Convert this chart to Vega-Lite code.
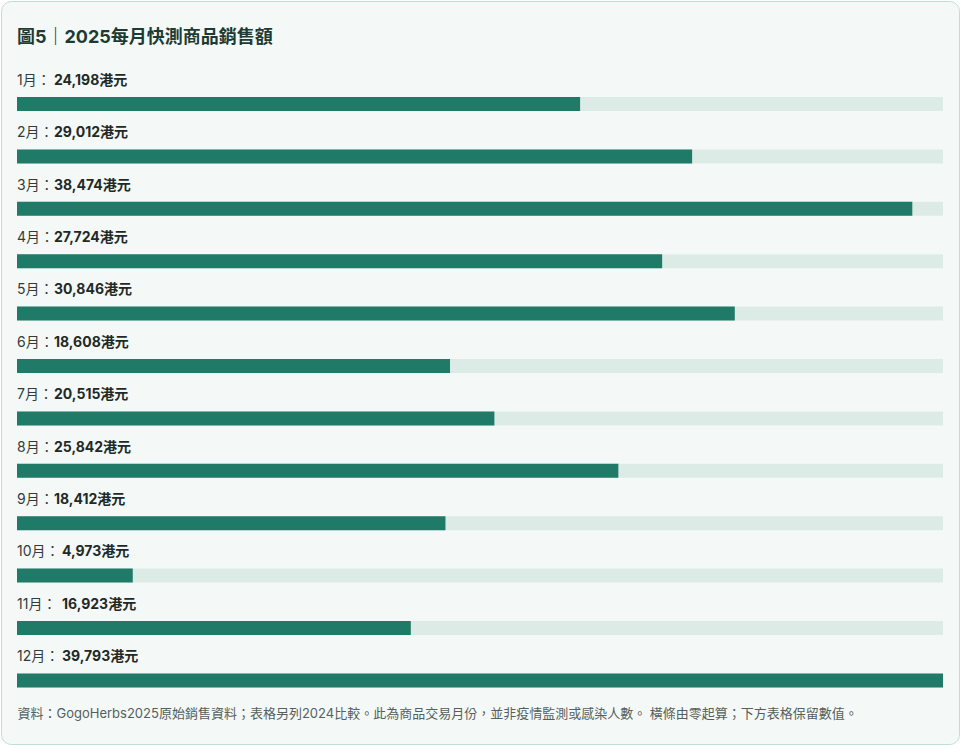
{
  "$schema": "https://vega.github.io/schema/vega-lite/v6.json",
  "autosize": "none",
  "width": 958,
  "height": 743,
  "padding": 1,
  "background": "#ffffff",
  "config": {
    "view": {"fill": "#f4f9f8", "stroke": "#bfdcd5", "strokeWidth": 1, "cornerRadius": 10},
    "font": "Inter, Noto Sans CJK TC, sans-serif"
  },
  "title": {
    "text": "圖5｜2025每月快測商品銷售額",
    "anchor": "start",
    "frame": "group",
    "orient": "top",
    "offset": -55,
    "baseline": "middle",
    "dx": 16,
    "fontSize": 18,
    "fontWeight": "bold",
    "color": "#1d3b33"
  },
  "data": {
    "values": [
      {"m": 1, "sales": 24198},
      {"m": 2, "sales": 29012},
      {"m": 3, "sales": 38474},
      {"m": 4, "sales": 27724},
      {"m": 5, "sales": 30846},
      {"m": 6, "sales": 18608},
      {"m": 7, "sales": 20515},
      {"m": 8, "sales": 25842},
      {"m": 9, "sales": 18412},
      {"m": 10, "sales": 4973},
      {"m": 11, "sales": 16923},
      {"m": 12, "sales": 39793}
    ]
  },
  "transform": [
    {"calculate": "datum.m + '月：'", "as": "prefix"},
    {"calculate": "format(datum.sales, ',') + '港元'", "as": "amount"}
  ],
  "encoding": {
    "y": {
      "field": "m",
      "type": "ordinal",
      "sort": "ascending",
      "scale": {"range": [57.6, 686.4], "paddingInner": 0, "paddingOuter": 0},
      "axis": null
    }
  },
  "layer": [
    {
      "mark": {"type": "bar", "height": 14, "yOffset": 19.2, "color": "#dcebe6"},
      "encoding": {
        "x": {
          "datum": 39793,
          "type": "quantitative",
          "scale": {"domain": [0, 39793], "range": [16, 942], "nice": false, "zero": true},
          "axis": {
            "title": "資料：GogoHerbs2025原始銷售資料；表格另列2024比較。此為商品交易月份，並非疫情監測或感染人數。 橫條由零起算；下方表格保留數值。",
            "labels": false,
            "ticks": false,
            "domain": false,
            "grid": false,
            "titleX": 16,
            "titleY": -31,
            "titleAlign": "left",
            "titleAnchor": "start",
            "titleBaseline": "middle",
            "titleFontSize": 13,
            "titleFontWeight": "normal",
            "titleColor": "#555f5c"
          }
        }
      }
    },
    {
      "mark": {"type": "bar", "height": 14, "yOffset": 19.2, "color": "#207a68"},
      "encoding": {
        "x": {"field": "sales", "type": "quantitative"}
      }
    },
    {
      "mark": {"type": "text", "align": "left", "baseline": "middle", "dy": -4, "fontSize": 14, "color": "#333b39"},
      "encoding": {
        "x": {"datum": 0, "type": "quantitative"},
        "text": {"field": "prefix"}
      }
    },
    {
      "transform": [{"filter": "datum.m < 10"}],
      "mark": {"type": "text", "align": "left", "baseline": "middle", "dy": -4, "dx": 37, "fontSize": 14, "fontWeight": "bold", "color": "#1f2a27"},
      "encoding": {
        "x": {"datum": 0, "type": "quantitative"},
        "text": {"field": "amount"}
      }
    },
    {
      "transform": [{"filter": "datum.m >= 10"}],
      "mark": {"type": "text", "align": "left", "baseline": "middle", "dy": -4, "dx": 45, "fontSize": 14, "fontWeight": "bold", "color": "#1f2a27"},
      "encoding": {
        "x": {"datum": 0, "type": "quantitative"},
        "text": {"field": "amount"}
      }
    }
  ]
}
